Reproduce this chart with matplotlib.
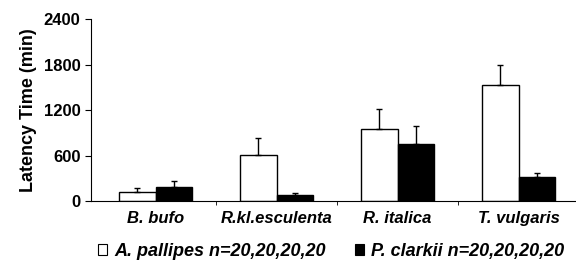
import matplotlib
matplotlib.use("Agg")
import matplotlib.pyplot as plt
import numpy as np
from matplotlib.patches import Patch

plt.rcParams['font.family'] = ['Liberation Sans', 'DejaVu Sans']

# ── Data ──
species = ["B. bufo", "R.kl.esculenta", "R. italica", "T. vulgaris"]
pallipes_mean = [118, 609, 955, 1527]
pallipes_err = [53, 220, 260, 271]
clarkii_mean = [192, 79, 754, 324]
clarkii_err = [75, 26, 241, 44]
legend_labels = ["A. pallipes n=20,20,20,20", "P. clarkii n=20,20,20,20"]

fig = plt.figure(figsize=(5.76, 2.62), dpi=100)
ax = fig.add_axes([0.158, 0.232, 0.842, 0.695])

x = np.arange(len(species))
w = 0.3
err_kw = dict(ecolor="black", elinewidth=1.0, capsize=2.5, capthick=1.0)

ax.bar(x - w / 2, pallipes_mean, w, color="white", edgecolor="black",
       linewidth=1.0, yerr=[np.zeros(4), pallipes_err], error_kw=err_kw)
ax.bar(x + w / 2, clarkii_mean, w, color="black", edgecolor="black",
       linewidth=1.0, yerr=[np.zeros(4), clarkii_err], error_kw=err_kw)

ax.set_xlim(-0.533, 3.475)
ax.set_ylim(0, 2400)
ax.set_yticks([0, 600, 1200, 1800, 2400])
ax.set_xticks(x)
ax.set_xticklabels(species, fontsize=12, fontweight="bold", fontstyle="italic")
ax.set_xticks([0.5, 1.5, 2.5], minor=True)
ax.tick_params(axis="x", which="major", length=0, pad=7)
ax.tick_params(axis="x", which="minor", length=3, direction="out")
ax.tick_params(axis="y", length=4, direction="out", labelsize=12)
for lab in ax.get_yticklabels():
    lab.set_fontweight("bold")

ax.set_ylabel("Latency Time (min)", fontsize=13, fontweight="bold", labelpad=5)

ax.spines["top"].set_visible(False)
ax.spines["right"].set_visible(False)

handles = [Patch(facecolor="white", edgecolor="black", linewidth=0.8),
           Patch(facecolor="black", edgecolor="black", linewidth=0.8)]
fig.legend(handles, legend_labels, loc="center", ncol=2, frameon=False,
           bbox_to_anchor=(0.575, 0.04), handlelength=0.5, handleheight=0.5,
           handletextpad=0.4, columnspacing=1.6, borderpad=0,
           prop=dict(family="Liberation Sans", weight="bold", style="italic", size=13))

fig.savefig("out.png", dpi=100)
